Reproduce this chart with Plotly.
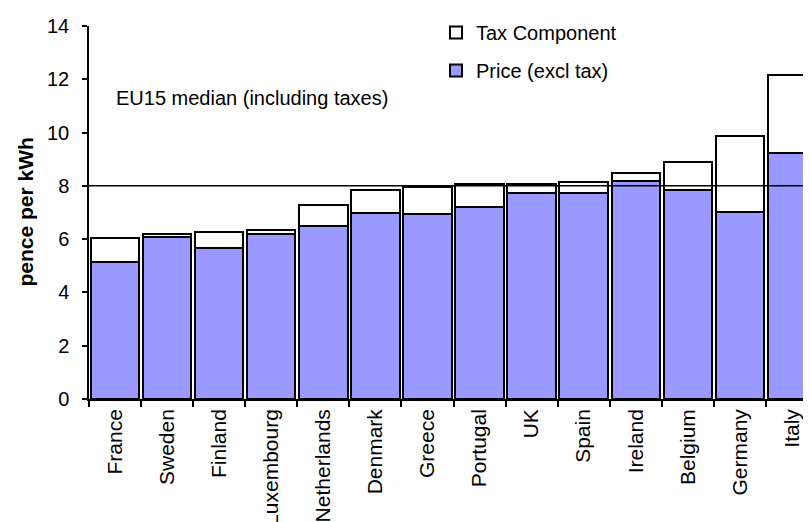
import plotly.graph_objects as go

countries = ["France", "Sweden", "Finland", "Luxembourg", "Netherlands", "Denmark",
             "Greece", "Portugal", "UK", "Spain", "Ireland", "Belgium", "Germany", "Italy"]
price_excl_tax = [5.13, 6.09, 5.67, 6.18, 6.48, 7.00, 6.93, 7.21, 7.75, 7.75, 8.20, 7.84, 7.01, 9.24]
tax_component = [0.91, 0.09, 0.58, 0.16, 0.82, 0.83, 1.04, 0.85, 0.31, 0.40, 0.30, 1.04, 2.85, 2.91]
eu15_median = 8.0
y_ticks = [0, 2, 4, 6, 8, 10, 12, 14]

FONT = "Liberation Sans, Arial, sans-serif"

fig = go.Figure()
fig.add_trace(go.Bar(
    x=countries, y=price_excl_tax, name="Price (excl tax)", legendgroup="p", legendrank=2,
    marker=dict(color="#9999FF", line=dict(color="black", width=2)),
))
fig.add_trace(go.Bar(
    x=countries, y=tax_component, name="Tax Component", legendgroup="t", legendrank=1,
    marker=dict(color="white", line=dict(color="black", width=2)),
))

fig.add_shape(type="line", xref="paper", yref="y", x0=0, x1=1,
              y0=eu15_median, y1=eu15_median, line=dict(color="black", width=1.5),
              layer="above")

fig.add_annotation(text="EU15 median (including taxes)", xref="paper", yref="y",
                   x=(106 - 81) / 729, y=11.3, xanchor="left", yanchor="middle",
                   showarrow=False, font=dict(size=20, color="black", family=FONT))

fig.add_annotation(text="<b>pence per kWh</b>", xref="paper", yref="paper",
                   x=(17 - 81) / 729, y=0.5, xanchor="center", yanchor="middle",
                   textangle=-90, showarrow=False,
                   font=dict(size=21, color="black", family=FONT))

fig.update_layout(
    width=811, height=522,
    margin=dict(l=81, r=1, t=18, b=131),
    barmode="stack", bargap=0.07,
    paper_bgcolor="white", plot_bgcolor="white",
    font=dict(family=FONT, size=20, color="black"),
    showlegend=True,
    legend=dict(x=(428 - 81) / 729, y=1.035, xanchor="left", yanchor="top",
                traceorder="grouped", tracegroupgap=9,
                bgcolor="rgba(0,0,0,0)", font=dict(size=20, family=FONT),
                itemwidth=30),
    xaxis=dict(type="category", showline=True, linecolor="black", linewidth=1.5,
               ticks="outside", tickson="boundaries", ticklen=6, tickwidth=1.5,
               tickcolor="black", tickangle=-90, tickfont=dict(size=21, family=FONT),
               showgrid=False, zeroline=False),
    yaxis=dict(range=[0, 14], tickvals=y_ticks, showline=True, linecolor="black",
               linewidth=1.5, ticks="outside", ticklen=5, tickwidth=1.5,
               tickcolor="black", ticklabelstandoff=9, tickfont=dict(size=20, family=FONT),
               showgrid=False, zeroline=False),
)

fig.write_html("out.html")
